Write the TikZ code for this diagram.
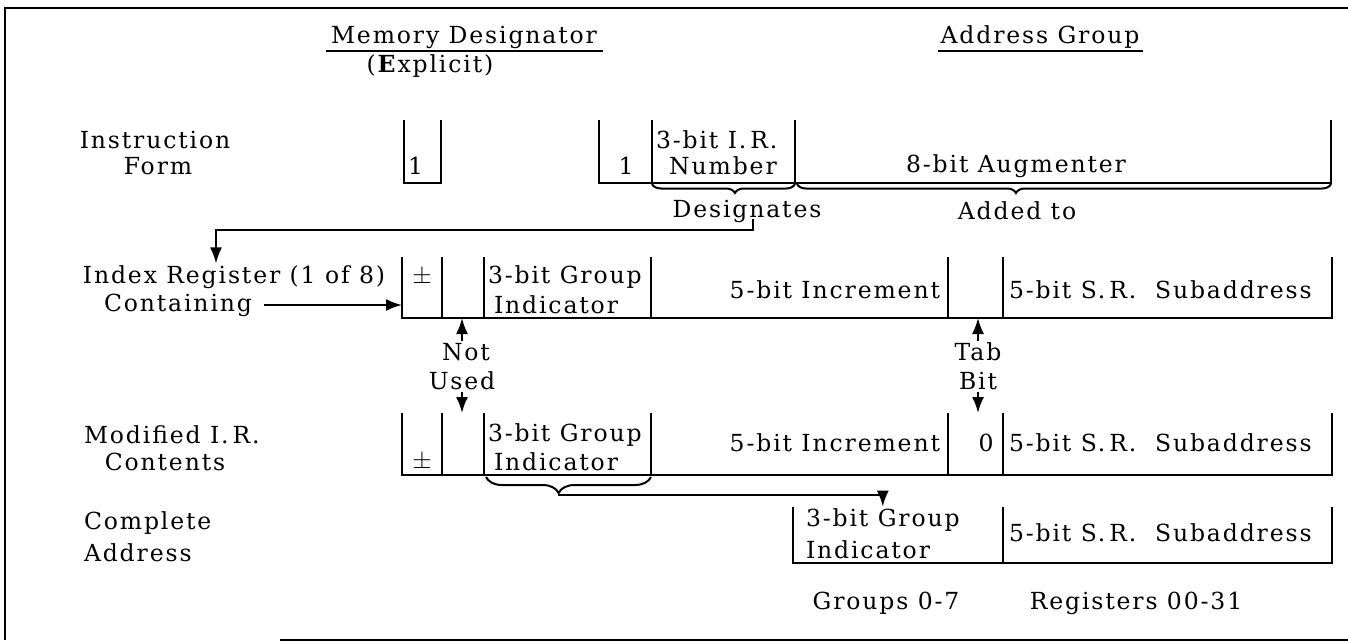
\documentclass[tikz,border=0pt]{standalone}
\usepackage{fontspec}
\setmainfont{DejaVu Serif}[LetterSpace=8]
\usetikzlibrary{arrows.meta, decorations.pathreplacing}

\begin{document}
\begin{tikzpicture}[x=1pt, y=-1pt, line width=2pt,
  every node/.style={font=\fontsize{23.5}{28}\selectfont, inner sep=1pt},
  tip/.style={-{Latex[length=16pt,width=12pt]}},
  brc/.style={decorate, decoration={brace, mirror, amplitude=#1}},
  brc/.default=9pt]
  \useasboundingbox (0,0) rectangle (1348,643);
  % frame
  \draw (5,640) -- (5,8) -- (1348,8);
  \draw (280,640) -- (1348,640);
  % headings
  \node (mdes) at (464,37) {Memory Designator};
  \draw (326,51) -- (603,51);
  \node (mexp) at (430,66) {(\textbf{E}xplicit)};
  \node (agrp) at (1040,37) {Address Group};
  \draw (938,51) -- (1143,51);
  % instruction form
  \node (instr) at (155,140) {Instruction};
  \node (form) at (158,166) {Form};
  \draw (404,120) -- (404,183) -- (441,183) -- (441,120);
  \node[anchor=west] (md1) at (406,166) {1};
  \draw (599,120) -- (599,183) -- (1331,183) -- (1331,120);
  \draw (652,120) -- (652,183);
  \draw (795,120) -- (795,183);
  \node (ir1) at (626,166) {1};
  \node[anchor=west] (irn) at (654,140) {3-bit I.\,R.};
  \node (irnum) at (723,166) {Number};
  \node (aug) at (1016,166) {8-bit Augmenter};
  \draw[brc, decoration={aspect=0.58}] (652,184) -- (795,184);
  \draw[brc, decoration={aspect=0.41}] (797,184) -- (1331,184);
  \node (desig) at (747,211) {Designates};
  \node (added) at (1017,211) {Added to};
  % index register
  \node (ireg) at (234,277) {Index Register (1 of 8)};
  \node (cont) at (178,305) {Containing};
  \coordinate (irL) at (402,257);
  \coordinate (irB) at (402,318);
  \draw (402,257) -- (402,318) -- (1332,318) -- (1332,257);
  \foreach \x in {442,484,651,948,1003}
    \draw (\x,257) -- (\x,318);
  \node (ipm) at (422,277) {$\pm$};
  \node[anchor=west] (igrp) at (486,277) {3-bit Group};
  \node[anchor=west] (iind) at (492,305) {Indicator};
  \node[anchor=east] (iinc) at (942,290) {5-bit Increment};
  \node[anchor=west] (isub) at (1007,290) {5-bit S.\,R.~ Subaddress};
  \coordinate (dgA) at (753,219);
  \coordinate (dgB) at (216,230);
  \draw[tip] (dgA) |- (dgB) -- (ireg.north -| dgB);
  \draw[tip] ([xshift=10pt]cont.east) -- (cont.east -| irL);
  % not used / tab bit
  \node (nt) at (466,352) {Not};
  \node (us) at (462,381) {Used};
  \node (tab) at (978,352) {Tab};
  \node (bit) at (978,381) {Bit};
  \coordinate (mrT) at (402,413);
  \draw[tip] (us.north |- nt.north) -- (us.north |- irB);
  \draw[tip] (us.south) -- (us.south |- mrT);
  \draw[tip] (bit.north |- tab.north) -- (bit.north |- irB);
  \draw[tip] (bit.south) -- (bit.south |- mrT);
  % modified contents
  \node[anchor=west] (modi) at (82,435) {Modified I.\,R.};
  \node (mcont) at (165,462) {Contents};
  \draw (402,413) -- (402,475) -- (1332,475) -- (1332,413);
  \foreach \x in {442,484,651,948,1003}
    \draw (\x,413) -- (\x,475);
  \node (mpm) at (422,462) {$\pm$};
  \node[anchor=west] (mgrp) at (486,435) {3-bit Group};
  \node[anchor=west] (mind) at (492,462) {Indicator};
  \node[anchor=east] (minc) at (942,443) {5-bit Increment};
  \node (mzero) at (986,443) {0};
  \node[anchor=west] (msub) at (1007,443) {5-bit S.\,R.~ Subaddress};
  \draw[brc=16pt, decoration={aspect=0.44}] (486,477) -- (651,477);
  \coordinate (gtip) at (558,495);
  % complete address
  \node[anchor=west] (cmpl) at (82,523) {Complete};
  \node[anchor=west] (caddr) at (82,553) {Address};
  \draw (793,507) -- (793,563) -- (1332,563) -- (1332,507);
  \draw (1003,507) -- (1003,563);
  \node[anchor=west] (cgrp) at (804,520) {3-bit Group};
  \node[anchor=west] (cind) at (804,550) {Indicator};
  \node[anchor=west] (csub) at (1007,533) {5-bit S.\,R.~ Subaddress};
  \draw[tip] (gtip) -| (cgrp.north);
  \node (grps) at (886,603) {Groups 0-7};
  \node (regs) at (1136,603) {Registers 00-31};
\end{tikzpicture}
\end{document}
